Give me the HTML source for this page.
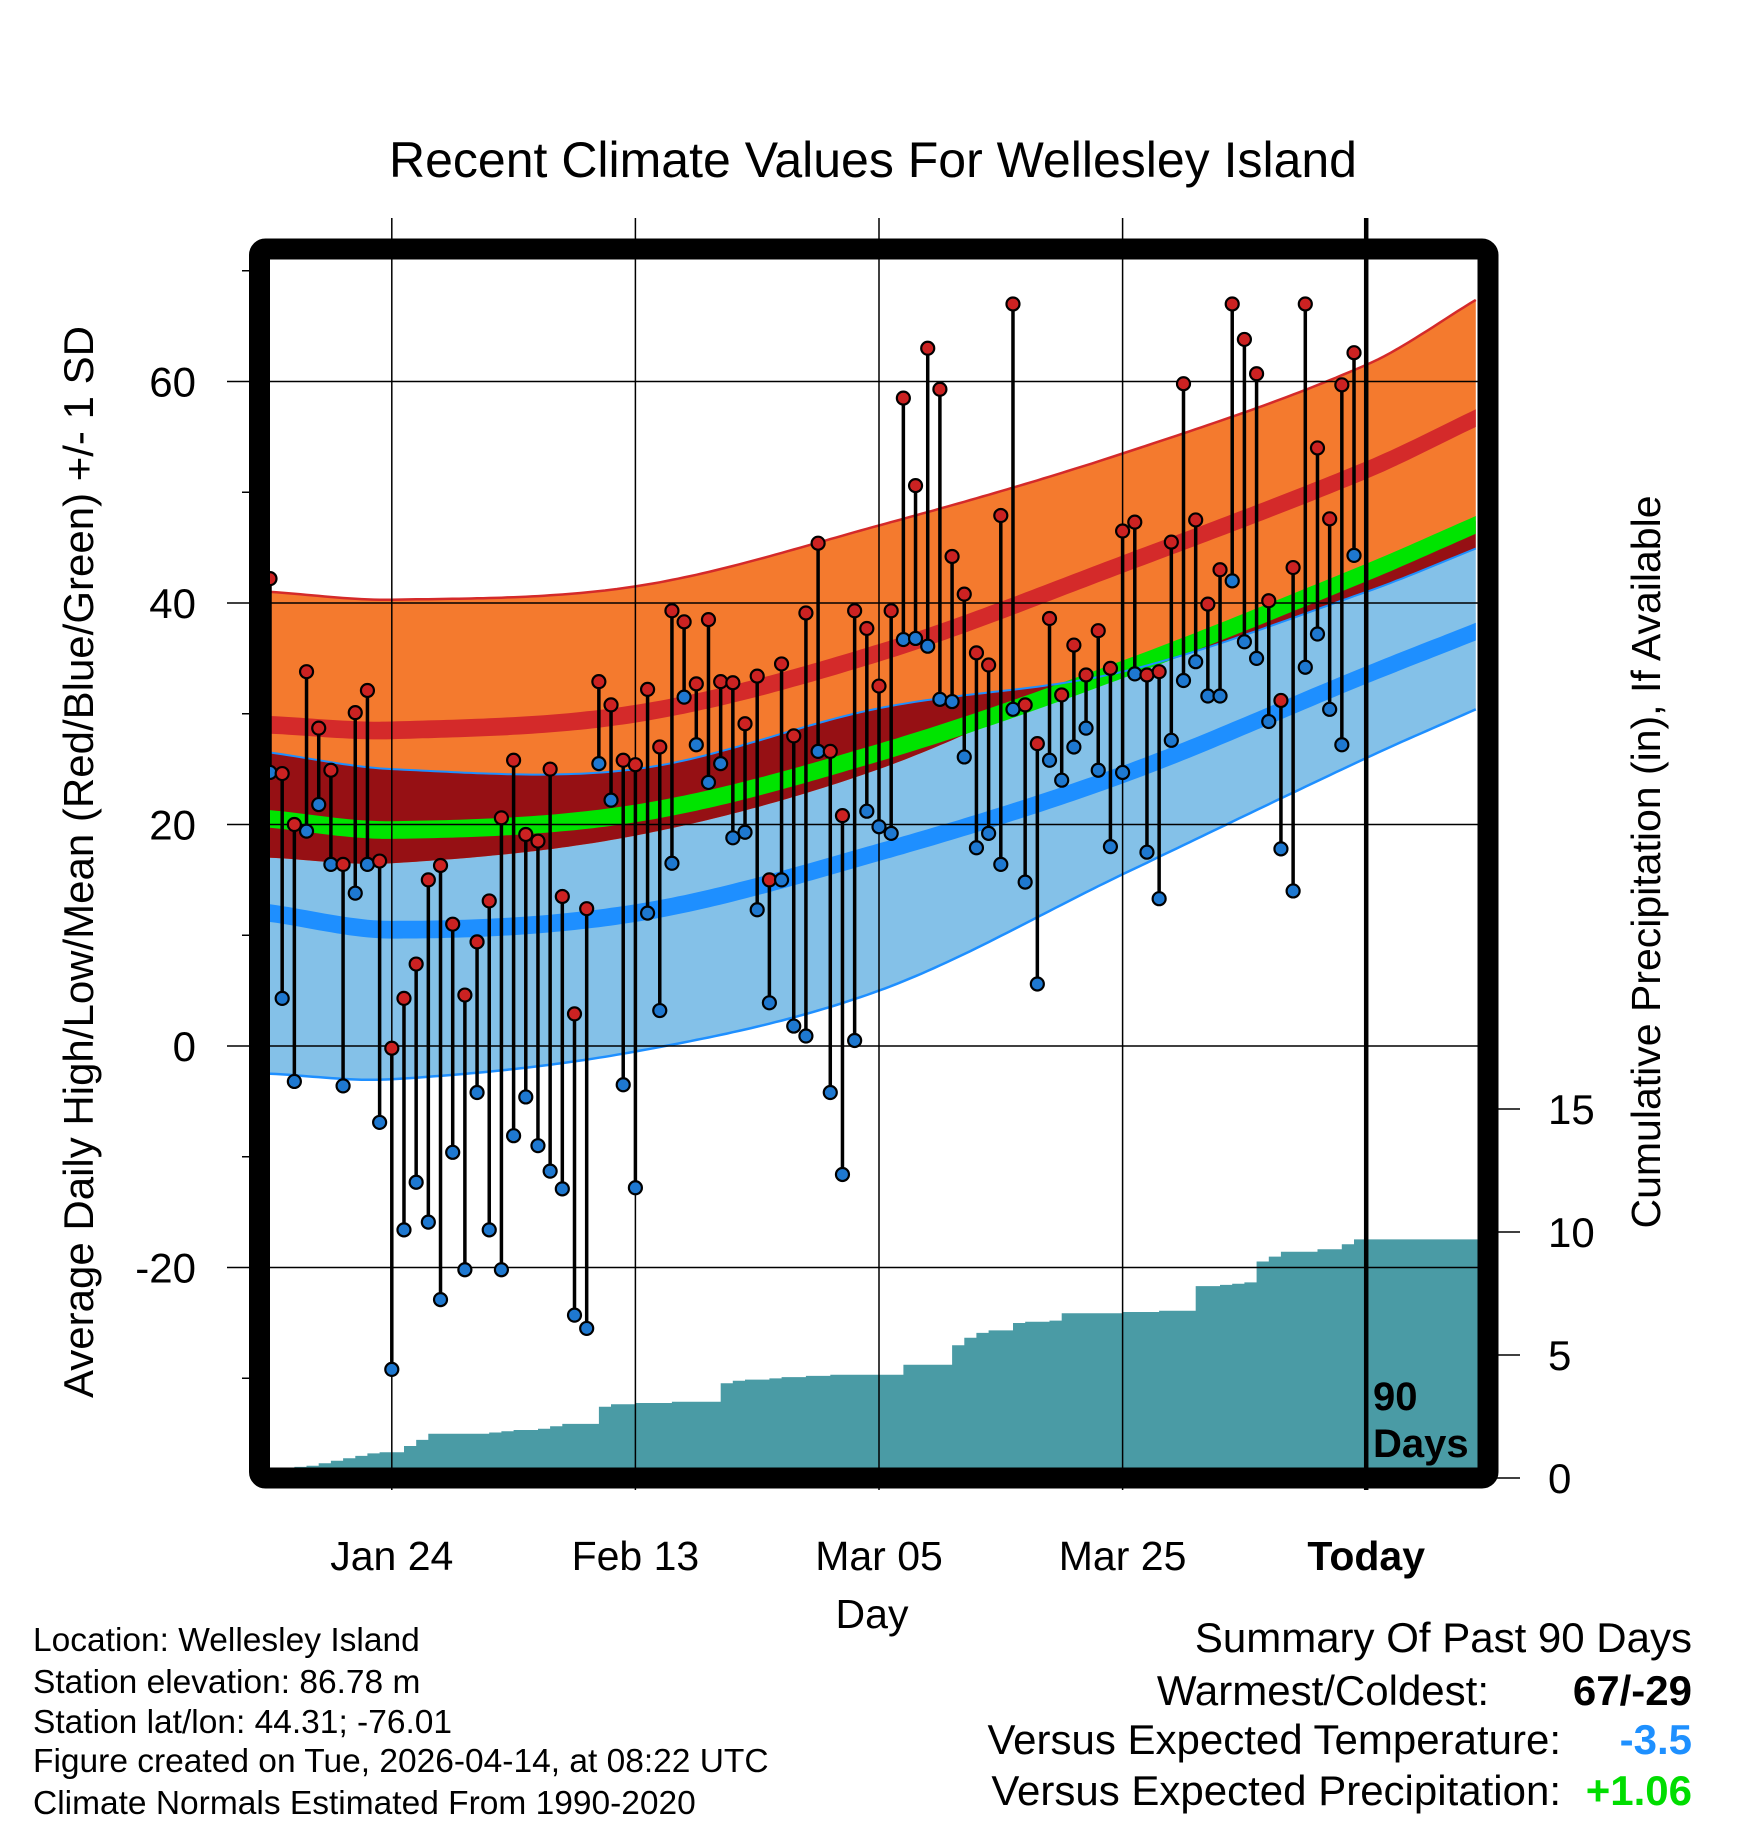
<!DOCTYPE html>
<html><head><meta charset="utf-8">
<style>
html,body{margin:0;padding:0;background:#fff;}
svg{display:block;font-family:"Liberation Sans",sans-serif;}
</style></head>
<body>
<svg id="chart" xmlns="http://www.w3.org/2000/svg" width="1748" height="1828" viewBox="0 0 1748 1828">
<rect width="1748" height="1828" fill="#fff"/>
<text x="873" y="177" font-size="50" text-anchor="middle">Recent Climate Values For Wellesley Island</text>
<defs><clipPath id="plotclip"><rect x="270" y="260" width="1208" height="1208"/></clipPath></defs>
<g id="bands" clip-path="url(#plotclip)"></g>
<g id="grid"></g>
<g id="marks" clip-path="url(#plotclip)"></g>
<g id="axes"></g>
<rect x="259.5" y="249" width="1228.5" height="1229" fill="none" stroke="#000" stroke-width="21" rx="6"/>
<text transform="translate(93,862) rotate(-90)" font-size="42" text-anchor="middle">Average Daily High/Low/Mean (Red/Blue/Green) +/- 1 SD</text>
<text transform="translate(1660,862) rotate(-90)" font-size="41" text-anchor="middle">Cumulative Precipitation (in), If Available</text>
<text x="872" y="1628" font-size="41" text-anchor="middle">Day</text>
<text font-size="40" font-weight="bold"><tspan x="1373" y="1410">90</tspan><tspan x="1373" y="1457">Days</tspan></text>
<g font-size="33.5">
<text x="33" y="1651">Location: Wellesley Island</text>
<text x="33" y="1693">Station elevation: 86.78 m</text>
<text x="33" y="1733">Station lat/lon: 44.31; -76.01</text>
<text x="33" y="1772">Figure created on Tue, 2026-04-14, at 08:22 UTC</text>
<text x="33" y="1814">Climate Normals Estimated From 1990-2020</text>
</g>
<g font-size="42">
<text x="1692" y="1652" text-anchor="end">Summary Of Past 90 Days</text>
<text x="1489" y="1705" text-anchor="end">Warmest/Coldest:</text>
<text x="1692" y="1705" text-anchor="end" font-weight="bold">67/-29</text>
<text x="1561" y="1754" text-anchor="end">Versus Expected Temperature:</text>
<text x="1692" y="1754" text-anchor="end" font-weight="bold" fill="#1e90ff">-3.5</text>
<text x="1561" y="1805" text-anchor="end">Versus Expected Precipitation:</text>
<text x="1692" y="1805" text-anchor="end" font-weight="bold" fill="#00dd00">+1.06</text>
</g>
</svg>
<script>
// daily observed highs/lows (deg F), 90 days
const highs=[42.2,24.6,20,33.8,28.7,24.9,16.4,30.1,32.1,16.7,-0.2,4.3,7.4,15,16.3,11,4.6,9.4,13.1,20.6,25.8,19.1,18.5,25,13.5,2.9,12.4,32.9,30.8,25.8,25.4,32.2,27,39.3,38.3,32.7,38.5,32.9,32.8,29.1,33.4,15,34.5,28,39.1,45.4,26.6,20.8,39.3,37.7,32.5,39.3,58.5,50.6,63,59.3,44.2,40.8,35.5,34.4,47.9,67,30.8,27.3,38.6,31.7,36.2,33.5,37.5,34.1,46.5,47.3,33.5,33.8,45.5,59.8,47.5,39.9,43,67,63.8,60.7,40.2,31.2,43.2,67,54,47.6,59.7,62.6];
const lows=[24.7,4.3,-3.2,19.4,21.8,16.4,-3.6,13.8,16.4,-6.9,-29.2,-16.6,-12.3,-15.9,-22.9,-9.6,-20.2,-4.2,-16.6,-20.2,-8.1,-4.6,-9,-11.3,-12.9,-24.3,-25.5,25.5,22.2,-3.5,-12.8,12,3.2,16.5,31.5,27.2,23.8,25.5,18.8,19.3,12.3,3.9,15,1.8,0.9,26.6,-4.2,-11.6,0.5,21.2,19.8,19.2,36.7,36.8,36.1,31.3,31.1,26.1,17.9,19.2,16.4,30.4,14.8,5.6,25.8,24,27,28.7,24.9,18,24.7,33.6,17.5,13.3,27.6,33,34.7,31.6,31.6,42,36.5,35,29.3,17.8,14,34.2,37.2,30.4,27.2,44.3];
// cumulative precipitation (in)
const precip=[0.35,0.4,0.45,0.5,0.6,0.7,0.8,0.9,1.0,1.05,1.05,1.3,1.55,1.8,1.8,1.8,1.8,1.8,1.85,1.9,1.95,1.95,2.0,2.1,2.2,2.2,2.2,2.9,3.0,3.0,3.05,3.05,3.05,3.1,3.1,3.1,3.1,3.85,3.95,4.0,4.0,4.05,4.1,4.1,4.15,4.15,4.2,4.2,4.2,4.2,4.2,4.2,4.6,4.6,4.6,4.6,5.4,5.7,5.9,6.0,6.0,6.3,6.35,6.35,6.4,6.7,6.7,6.7,6.7,6.7,6.75,6.75,6.75,6.8,6.8,6.8,7.8,7.8,7.85,7.9,7.95,8.8,9.0,9.2,9.2,9.2,9.3,9.3,9.5,9.7];
// climate normals at knot days
const normDays=[0,10,30,50,70,90,99.2];
const highMean=[29,28.5,30,35.5,43.5,52,56.8];
const highUpper=[41,40.3,41.5,47,53.5,61.5,67.5];
const highLower=[17,16.5,19,25,34.5,43,47.5];
const lowMean=[12,10.5,12,17.5,24.5,33.5,37.5];
const lowUpper=[26.5,25,25,30.5,33.8,41,45];
const lowLower=[-2.5,-3,-0.5,5,15.5,26,30.5];
const yTicks=[60,40,20,0,-20];
const yMinor=[70,50,30,10,-10,-30];
const pTicks=[0,5,10,15];
const xLabels=["Jan 24","Feb 13","Mar 05","Mar 25","Today"];
const xLabelDays=[10,30,50,70,90];

const NS="http://www.w3.org/2000/svg";
const X=d=>270+d*12.18;
const Y=v=>1046-v*11.075;
const YP=p=>1478-p*24.6;
function mk(tag,attrs,parent){const e=document.createElementNS(NS,tag);for(const k in attrs)e.setAttribute(k,attrs[k]);parent.appendChild(e);return e;}
function slope(ys,i){
  const n=ys.length;
  const a=Math.max(i-1,0),b=Math.min(i+1,n-1);
  return (ys[b]-ys[a])/(normDays[b]-normDays[a]);
}
function interp(ys,d){
  let i=0;while(i<normDays.length-2&&d>normDays[i+1])i++;
  const x0=normDays[i],x1=normDays[i+1],h=x1-x0,t=(d-x0)/h;
  const p1=ys[i],p2=ys[i+1],m1=slope(ys,i)*h,m2=slope(ys,i+1)*h;
  const t2=t*t,t3=t2*t;
  return (2*t3-3*t2+1)*p1+(t3-2*t2+t)*m1+(-2*t3+3*t2)*p2+(t3-t2)*m2;
}
const days=[];for(let d=0;d<=99.4;d+=0.5)days.push(d);
function curve(fn){return days.map(d=>[X(d),Y(fn(d))]);}
function bandPath(fTop,fBot){
  const a=curve(fTop),b=curve(fBot).reverse();
  return "M"+a.map(p=>p[0].toFixed(1)+","+p[1].toFixed(1)).join("L")+"L"+b.map(p=>p[0].toFixed(1)+","+p[1].toFixed(1)).join("L")+"Z";
}
function linePath(fn){return "M"+curve(fn).map(p=>p[0].toFixed(1)+","+p[1].toFixed(1)).join("L");}
const hm=d=>interp(highMean,d),hu=d=>interp(highUpper,d),hl=d=>interp(highLower,d);
const lm=d=>interp(lowMean,d),lu=d=>interp(lowUpper,d),ll=d=>interp(lowLower,d);
const gm=d=>(hm(d)+lm(d))/2;
const bands=document.getElementById('bands');
let e;
e=mk('path',{d:bandPath(lu,ll),fill:'#84c1e8'},bands);

e=mk('path',{d:bandPath(hu,hl),fill:'#f47a2e'},bands);

e=mk('path',{d:bandPath(d=>Math.min(hu(d),lu(d)),d=>Math.max(hl(d),ll(d))),fill:'#961014'},bands);

e=mk('path',{d:bandPath(d=>gm(d)+0.8,d=>gm(d)-0.8),fill:'#00e400'},bands);

e=mk('path',{d:bandPath(d=>hm(d)+0.8,d=>hm(d)-0.8),fill:'#d42a2a'},bands);

e=mk('path',{d:bandPath(d=>lm(d)+0.8,d=>lm(d)-0.8),fill:'#1e8fff'},bands);

e=mk('path',{d:linePath(hu),fill:'none',stroke:'#d42a2a','stroke-width':2.5},bands);

e=mk('path',{d:linePath(lu),fill:'none',stroke:'#1e8fff','stroke-width':2},bands);

e=mk('path',{d:linePath(ll),fill:'none',stroke:'#1e8fff','stroke-width':2.5},bands);

// precipitation step area
let pd="M"+X(0)+","+YP(0);
precip.forEach((p,i)=>{pd+="L"+X(i).toFixed(1)+","+YP(p).toFixed(1)+"L"+X(i+1).toFixed(1)+","+YP(p).toFixed(1);});
pd+="L1480,"+YP(precip[precip.length-1]).toFixed(1)+"L1480,"+YP(0)+"Z";
e=mk('path',{d:pd,fill:'#4a9ba5'},bands);

// grid
const grid=document.getElementById('grid');
yTicks.forEach(v=>{
  e=mk('line',{x1:270,x2:1478,y1:Y(v),y2:Y(v),stroke:'#000','stroke-width':1.5},grid);
  
});
xLabelDays.forEach((d,i)=>{
  const w=i===xLabelDays.length-1?4.5:1.5;
  e=mk('line',{x1:X(d),x2:X(d),y1:218,y2:1490,stroke:'#000','stroke-width':w},grid);
  
});
// marks
const marks=document.getElementById('marks');
highs.forEach((h,i)=>{
  e=mk('line',{x1:X(i),x2:X(i),y1:Y(h),y2:Y(lows[i]),stroke:'#000','stroke-width':3.5},marks);
  
});
highs.forEach((h,i)=>{
  e=mk('circle',{cx:X(i),cy:Y(h),r:6.5,fill:'#cc2222',stroke:'#000','stroke-width':2.2},marks);
  
  e=mk('circle',{cx:X(i),cy:Y(lows[i]),r:6.5,fill:'#1e78d0',stroke:'#000','stroke-width':2.2},marks);
  
});
// axes
const axes=document.getElementById('axes');
yTicks.forEach(v=>{
  e=mk('line',{x1:227,x2:252,y1:Y(v),y2:Y(v),stroke:'#000','stroke-width':1.5},axes);
  
  e=mk('text',{x:196,y:Y(v)+15,'font-size':42,'text-anchor':'end'},axes);
  e.textContent=v;
  
});
yMinor.forEach(v=>{
  e=mk('line',{x1:242,x2:252,y1:Y(v),y2:Y(v),stroke:'#000','stroke-width':1.5},axes);
  
});
pTicks.forEach(p=>{
  e=mk('line',{x1:1495,x2:1520,y1:YP(p),y2:YP(p),stroke:'#000','stroke-width':1.5},axes);
  
  e=mk('text',{x:1548,y:YP(p)+15,'font-size':42},axes);
  e.textContent=p;
  
});
xLabels.forEach((l,i)=>{
  e=mk('text',{x:X(xLabelDays[i]),y:1570,'font-size':41,'text-anchor':'middle'},axes);
  if(l==='Today')e.setAttribute('font-weight','bold');
  e.textContent=l;
  
});
</script>
</body></html>
